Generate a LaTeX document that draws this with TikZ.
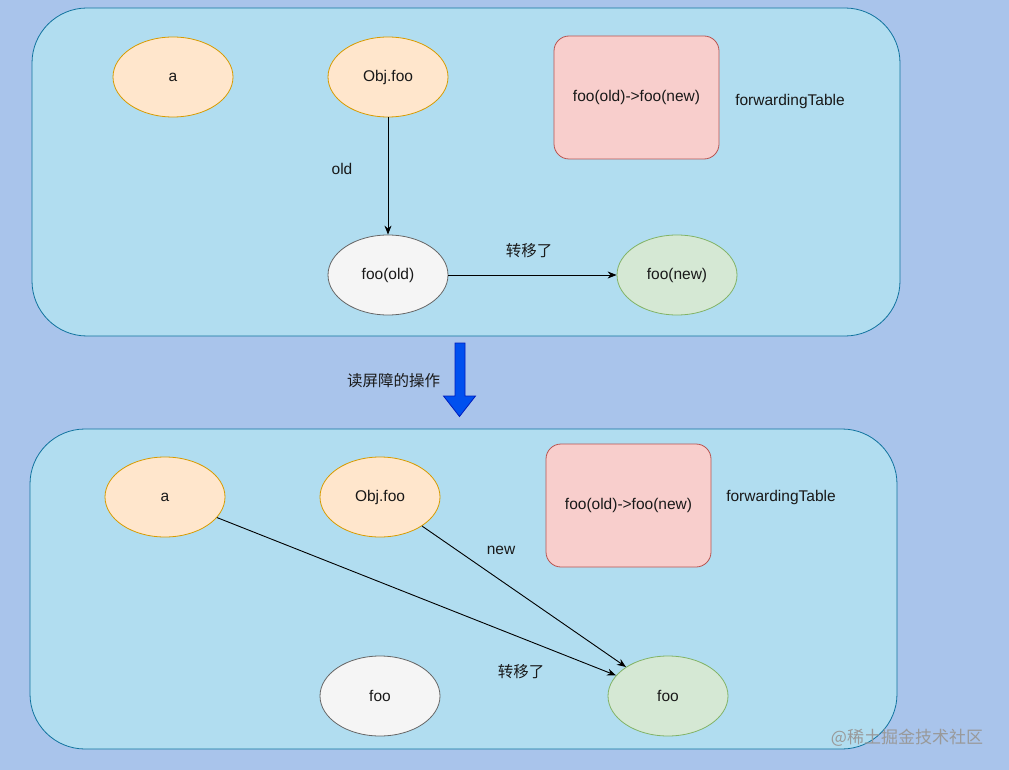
\documentclass[tikz,border=0pt]{standalone}
\usepackage{fontspec}
\setmainfont{Liberation Sans}
\newfontfamily\cjk{Noto Sans CJK SC}
\usetikzlibrary{shapes.geometric,arrows.meta}
\definecolor{bgblue}{HTML}{A9C4EB}
\definecolor{contfill}{HTML}{B1DDF0}
\definecolor{contline}{HTML}{10739E}
\definecolor{orfill}{HTML}{FFE6CC}
\definecolor{orline}{HTML}{D79B00}
\definecolor{gyfill}{HTML}{F5F5F5}
\definecolor{gyline}{HTML}{666666}
\definecolor{grfill}{HTML}{D5E8D4}
\definecolor{grline}{HTML}{82B366}
\definecolor{rdfill}{HTML}{F8CECC}
\definecolor{rdline}{HTML}{B85450}
\definecolor{arrfill}{HTML}{0050EF}
\definecolor{arrline}{HTML}{001DBC}
\tikzset{
  every node/.style={font=\fontsize{15.5}{18}\selectfont, text=black!90},
  ell/.style={ellipse, minimum width=120pt, minimum height=80pt, inner sep=0pt, line width=0.8pt},
  orell/.style={ell, draw=orline, fill=orfill},
  gyell/.style={ell, draw=gyline, fill=gyfill},
  grell/.style={ell, draw=grline, fill=grfill},
  tablebox/.style={draw=rdline, fill=rdfill, rounded corners=15pt, minimum width=165pt, minimum height=123pt, line width=0.8pt},
  container/.style={draw=contline, fill=contfill, rounded corners=55pt, line width=0.8pt},
  conn/.style={-{Stealth[length=9pt,width=7pt]}, line width=0.9pt, draw=black},
  lbl/.style={inner sep=0pt}
}
\begin{document}
\begin{tikzpicture}[x=1pt,y=-1pt]
\useasboundingbox (0,0) rectangle (1009,770);
\fill[bgblue] (0,0) rectangle (1009,770);

% containers
\draw[container] (32,8) rectangle (900,336);
\draw[container] (30,429) rectangle (897,749);

% top panel
\node[orell] (a1) at (173,77) {a};
\node[orell] (obj1) at (388,77) {Obj.foo};
\node[gyell] (old1) at (388,275) {foo(old)};
\node[grell] (new1) at (677,275) {foo(new)};
\node[tablebox] (tab1) at (636.5,97.5) {foo(old)->foo(new)};
\node[lbl] (ft1) at (790,101) {forwardingTable};
\draw[conn] (obj1) -- (old1);
\draw[conn] (old1) -- (new1);
\node[lbl] (oldlbl) at (342,169) {old};
\node[lbl] (mv1) at (529,251) {\cjk 转移了};

% middle block arrow
\filldraw[fill=arrfill, draw=arrline, line width=0.8pt]
  (455,343) -- (465,343) -- (465,396) -- (475.5,396) -- (459.5,416.5) -- (443.5,396) -- (455,396) -- cycle;
\node[lbl] (rb) at (393.5,381) {\cjk 读屏障的操作};

% bottom panel
\node[orell] (a2) at (165,497) {a};
\node[orell] (obj2) at (380,497) {Obj.foo};
\node[gyell] (foo2) at (380,696) {foo};
\node[grell] (new2) at (668,696) {foo};
\node[tablebox] (tab2) at (628.5,505.5) {foo(old)->foo(new)};
\node[lbl] (ft2) at (781,497) {forwardingTable};
\draw[conn] (a2) -- (new2);
\draw[conn] (obj2) -- (new2);
\node[lbl] (newlbl) at (501,550) {new};
\node[lbl] (mv2) at (521,672) {\cjk 转移了};

% watermark
\node[lbl, text=gray!80, font=\fontsize{17}{20}\selectfont\cjk] (wm) at (907,738) {@稀土掘金技术社区};
\end{tikzpicture}
\end{document}
